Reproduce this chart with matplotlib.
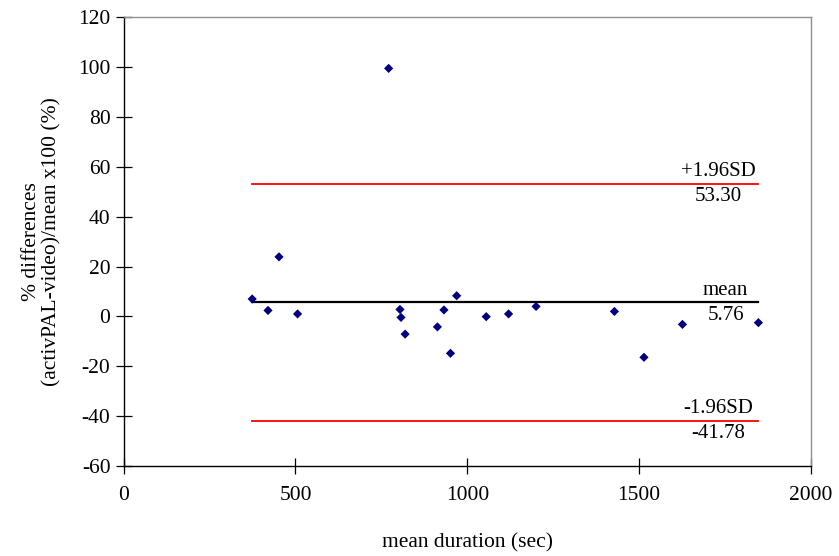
import matplotlib
matplotlib.use("Agg")
import matplotlib.pyplot as plt

# Bland-Altman style data
mean_duration = [374, 420, 452, 506, 771, 804, 807, 819, 913, 932,
                 951, 969, 1055, 1120, 1200, 1428, 1514, 1626, 1847]
pct_diff = [7.0, 2.4, 23.9, 1.0, 99.5, 2.8, -0.4, -7.1, -4.2, 2.6,
            -14.8, 8.3, -0.1, 1.0, 4.0, 2.0, -16.4, -3.2, -2.5]
mean_diff = 5.76
upper_loa = 53.30
lower_loa = -41.78
xticks = [0, 500, 1000, 1500, 2000]
yticks = [-60, -40, -20, 0, 20, 40, 60, 80, 100, 120]

plt.rcParams["font.family"] = ["Liberation Serif", "DejaVu Serif"]
plt.rcParams["axes.unicode_minus"] = False

fig = plt.figure(figsize=(8.39, 5.56), dpi=100)
ax = fig.add_axes([0.1474, 0.1619, 0.9666 - 0.1474, 0.9689 - 0.1619])

x0, x1 = min(mean_duration), max(mean_duration)
ax.plot([x0, x1], [upper_loa, upper_loa], color="#ff0000", lw=1.3, zorder=2)
ax.plot([x0, x1], [lower_loa, lower_loa], color="#ff0000", lw=1.3, zorder=2)
ax.plot([x0, x1], [mean_diff, mean_diff], color="black", lw=1.6, zorder=2)

ax.scatter(mean_duration, pct_diff, marker="D", s=22, color="#000080",
           edgecolors="none", zorder=3)

# line labels
for val, name, lx in [(upper_loa, "+1.96SD", 1730), (mean_diff, "mean", 1752),
                      (lower_loa, "-1.96SD", 1730)]:
    ax.text(lx, val + 1.0, name, ha="center", va="bottom", fontsize=15)
    ax.text(lx, val - 1.4, f"{val:.2f}", ha="center", va="top", fontsize=15)

ax.set_xlim(0, 2000)
ax.set_ylim(-60, 120)
ax.set_xticks(xticks)
ax.set_yticks(yticks)
ax.tick_params(direction="inout", length=11, width=0.9, labelsize=15.5)
ax.tick_params(axis="x", pad=9)
ax.tick_params(axis="y", pad=4)

for side in ["left", "bottom"]:
    ax.spines[side].set_color("black")
    ax.spines[side].set_linewidth(1.0)
for side in ["top", "right"]:
    ax.spines[side].set_color("#909090")
    ax.spines[side].set_linewidth(1.0)

ax.set_xlabel("mean duration (sec)", fontsize=15.5, labelpad=20)
ax.set_ylabel("% differences\n(activPAL-video)/mean x100 (%)", fontsize=15.5,
              labelpad=12, linespacing=1.1)

fig.savefig("out.png", dpi=100)
